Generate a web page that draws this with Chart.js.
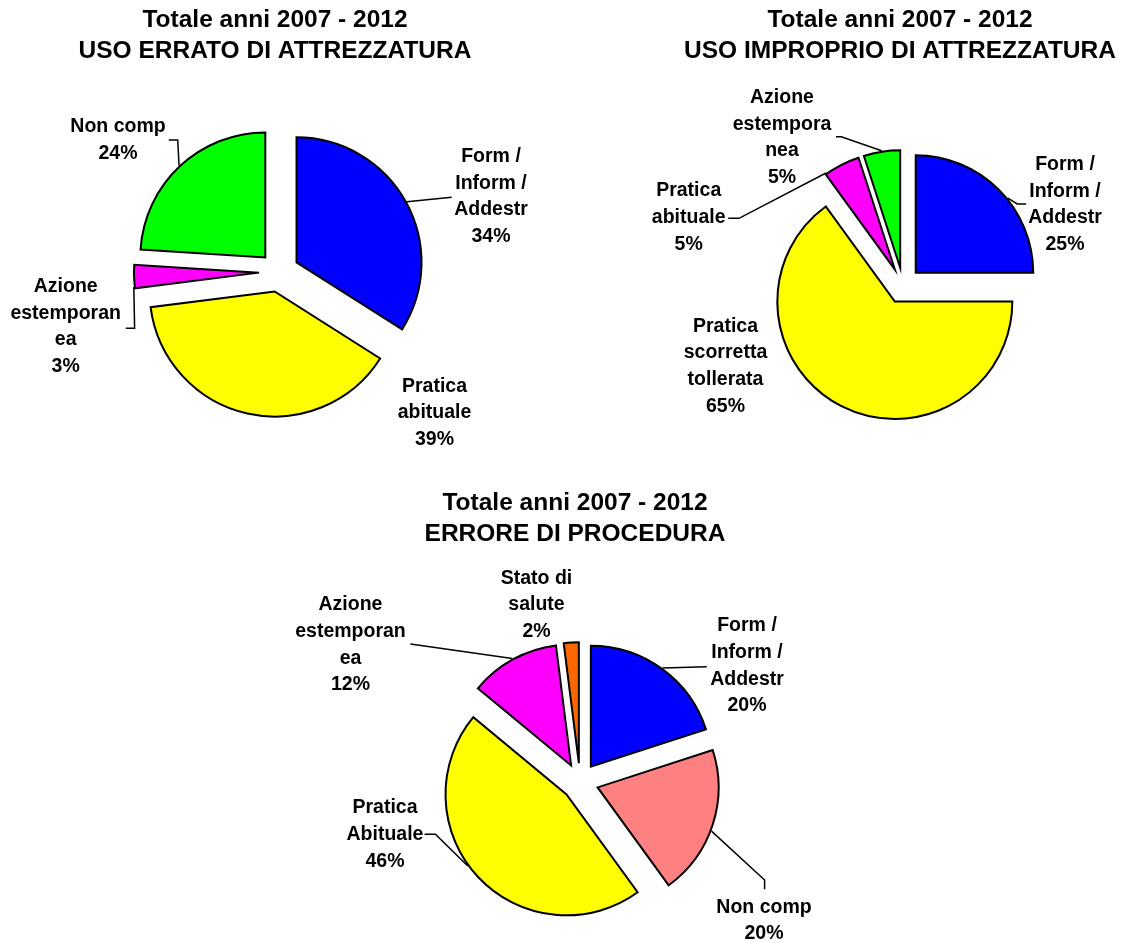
<!DOCTYPE html>
<html>
<head>
<meta charset="utf-8">
<script src="https://cdn.jsdelivr.net/npm/chart.js@4.4.1/dist/chart.umd.min.js"></script>
<style>
  html, body { margin: 0; padding: 0; background: #ffffff; overflow: hidden; }
  #page { position: relative; width: 1126px; height: 943px; overflow: hidden; background: #ffffff; }
  .box { position: absolute; }
</style>
</head>
<body>
<div id="page">
  <div class="box" id="box1"><canvas id="c1"></canvas></div>
  <div class="box" id="box2"><canvas id="c2"></canvas></div>
  <div class="box" id="box3"><canvas id="c3"></canvas></div>
</div>
<script>
// ---------------- DATA ----------------
const chart1Title  = ['Totale anni 2007 - 2012', 'USO ERRATO DI ATTREZZATURA'];
const chart1Labels = [['Form /', 'Inform /', 'Addestr'], ['Pratica', 'abituale'], ['Azione', 'estemporan', 'ea'], ['Non comp']];
const chart1Values = [34, 39, 3, 24];
const chart1Colors = ['#0000FF', '#FFFF00', '#FF00FF', '#00FF00'];

const chart2Title  = ['Totale anni 2007 - 2012', 'USO IMPROPRIO DI ATTREZZATURA'];
const chart2Labels = [['Form /', 'Inform /', 'Addestr'], ['Pratica', 'scorretta', 'tollerata'], ['Pratica', 'abituale'], ['Azione', 'estempora', 'nea']];
const chart2Values = [25, 65, 5, 5];
const chart2Colors = ['#0000FF', '#FFFF00', '#FF00FF', '#00FF00'];

const chart3Title  = ['Totale anni 2007 - 2012', 'ERRORE DI PROCEDURA'];
const chart3Labels = [['Form /', 'Inform /', 'Addestr'], ['Non comp'], ['Pratica', 'Abituale'], ['Azione', 'estemporan', 'ea'], ['Stato di', 'salute']];
const chart3Values = [20, 20, 46, 12, 2];
const chart3Colors = ['#0000FF', '#FF8080', '#FFFF00', '#FF00FF', '#FF6600'];

// ---------------- LAYOUT / STYLE ----------------
const FONT = "'Liberation Sans', Arial, Helvetica, sans-serif";
const TITLE_SIZE = 24.5, TITLE_LH = 31;
const LABEL_SIZE = 19.5, LABEL_LH = 26.7;

const layout1 = {
  box: [0, 0, 563, 500], center: [279, 272], radius: 125, explode: 20,
  titlePadTop: 4.5, titleShift: -4,
  items: [
    { pos: [212, -75.4], leader: { pts: [[172.7, -74.7]] } },
    { pos: [155.5, 141] },
    { pos: [-213.3, 54.7], leader: { pts: [[-153.3, 56.3], [-144.4, 56.3]], angle: 263.5 } },
    { pos: [-161, -132], leader: { pts: [[-110.2, -132], [-101.3, -132]] } }
  ]
};
const layout2 = {
  box: [563, 0, 563, 520], center: [903, 285.5], radius: 117.5, explode: 18,
  titlePadTop: 4.5, titleShift: -3,
  items: [
    { pos: [162, -81], leader: { pts: [[123.2, -81.5], [114.2, -81.5]], angle: 51 } },
    { pos: [-177.5, 80.8] },
    { pos: [-214.3, -67.9], leader: { pts: [[-174.8, -67.2], [-164, -67.2]], angle: 324.5 } },
    { pos: [-121, -147.9], leader: { pts: [[-67.1, -148.8], [-61.7, -148.8]] } }
  ]
};
const layout3 = {
  box: [250, 470, 660, 560], center: [580, 781.7], radius: 121, explode: 18.5,
  titlePadTop: 17.5, titleShift: -5,
  items: [
    { pos: [167, -115.7], leader: { pts: [[126.8, -115]] } },
    { pos: [184, 138.8], leader: { pts: [[184.6, 107.6], [184.6, 98.3]], angle: 111 } },
    { pos: [-195, 52.8], leader: { pts: [[-155.4, 52.6], [-144.6, 52.6]], angle: 234 } },
    { pos: [-229.5, -136.7], leader: { pts: [[-169.6, -137.7]] } },
    { pos: [-43.5, -176.7] }
  ]
};

// ---------------- PLUGINS ----------------
// Draw each library arc element pushed out along its bisector (exploded pie)
const explodePlugin = {
  id: 'explode',
  beforeDatasetDraw(chart, args, opts) {
    const ctx = chart.ctx;
    const d = opts.distance || 0;
    args.meta.data.forEach((arc) => {
      const mid = (arc.startAngle + arc.endAngle) / 2;
      ctx.save();
      ctx.translate(Math.cos(mid) * d, Math.sin(mid) * d);
      arc.draw(ctx, chart.chartArea);
      ctx.restore();
    });
    return false;
  }
};

// Category + percentage labels with leader lines
const sliceLabels = {
  id: 'sliceLabels',
  afterDatasetsDraw(chart, args, opts) {
    const ctx = chart.ctx;
    const meta = chart.getDatasetMeta(0);
    const vals = chart.data.datasets[0].data;
    const total = vals.reduce((a, b) => a + b, 0);
    const d = opts.explode || 0;
    ctx.save();
    meta.data.forEach((arc, i) => {
      const item = opts.items[i];
      if (!item) return;
      const mid = (arc.startAngle + arc.endAngle) / 2;
      const ax = arc.x + Math.cos(mid) * d;
      const ay = arc.y + Math.sin(mid) * d;
      if (item.leader) {
        const ang = item.leader.angle != null ? (item.leader.angle - 90) * Math.PI / 180 : mid;
        const r = arc.outerRadius + 1;
        ctx.beginPath();
        item.leader.pts.forEach((p, k) => {
          const x = arc.x + p[0], y = arc.y + p[1];
          if (k === 0) ctx.moveTo(x, y); else ctx.lineTo(x, y);
        });
        ctx.lineTo(ax + Math.cos(ang) * r, ay + Math.sin(ang) * r);
        ctx.lineWidth = 1.5;
        ctx.strokeStyle = '#000000';
        ctx.lineJoin = 'miter';
        ctx.stroke();
      }
      const lines = [].concat(chart.data.labels[i], Math.round(vals[i] / total * 100) + '%');
      const lx = arc.x + item.pos[0];
      const ly = arc.y + item.pos[1];
      ctx.font = 'bold ' + LABEL_SIZE + 'px ' + FONT;
      ctx.fillStyle = '#000000';
      ctx.textAlign = 'center';
      ctx.textBaseline = 'middle';
      lines.forEach((t, k) => {
        ctx.fillText(t, lx, ly + (k - (lines.length - 1) / 2) * LABEL_LH);
      });
    });
    ctx.restore();
  }
};

// Small horizontal nudge of the title block
const titleShift = {
  id: 'titleShift',
  afterLayout(chart, args, opts) {
    const tb = chart.titleBlock;
    if (tb && opts.dx) { tb.left += opts.dx; tb.right += opts.dx; }
  }
};

function makeChart(canvasId, boxId, title, labels, values, colors, L) {
  const box = document.getElementById(boxId);
  const [bx, by, W, H] = L.box;
  box.style.left = bx + 'px'; box.style.top = by + 'px';
  box.style.width = W + 'px'; box.style.height = H + 'px';
  const cx = L.center[0] - bx, cy = L.center[1] - by;
  const half = Math.min(cx, W - cx);
  const titleH = L.titlePadTop + title.length * TITLE_LH;
  const padL = cx - half, padR = W - cx - half;
  const padB = Math.max(0, titleH + H - 2 * cy);

  return new Chart(document.getElementById(canvasId), {
    type: 'pie',
    data: {
      labels: labels,
      datasets: [{
        data: values,
        backgroundColor: colors,
        borderColor: '#000000',
        borderWidth: 2,
        borderJoinStyle: 'miter',
        clip: false
      }]
    },
    options: {
      responsive: true,
      maintainAspectRatio: false,
      animation: false,
      events: [],
      radius: L.radius,
      layout: { padding: { left: padL, right: padR, top: 0, bottom: padB } },
      plugins: {
        legend: { display: false },
        tooltip: { enabled: false },
        title: {
          display: true,
          text: title,
          color: '#000000',
          font: { family: FONT, size: TITLE_SIZE, weight: 'bold', lineHeight: TITLE_LH / TITLE_SIZE },
          padding: { top: L.titlePadTop, bottom: 0 }
        },
        explode: { distance: L.explode },
        sliceLabels: { explode: L.explode, items: L.items },
        titleShift: { dx: L.titleShift }
      }
    },
    plugins: [explodePlugin, sliceLabels, titleShift]
  });
}

makeChart('c1', 'box1', chart1Title, chart1Labels, chart1Values, chart1Colors, layout1);
makeChart('c2', 'box2', chart2Title, chart2Labels, chart2Values, chart2Colors, layout2);
makeChart('c3', 'box3', chart3Title, chart3Labels, chart3Values, chart3Colors, layout3);
</script>
</body>
</html>
